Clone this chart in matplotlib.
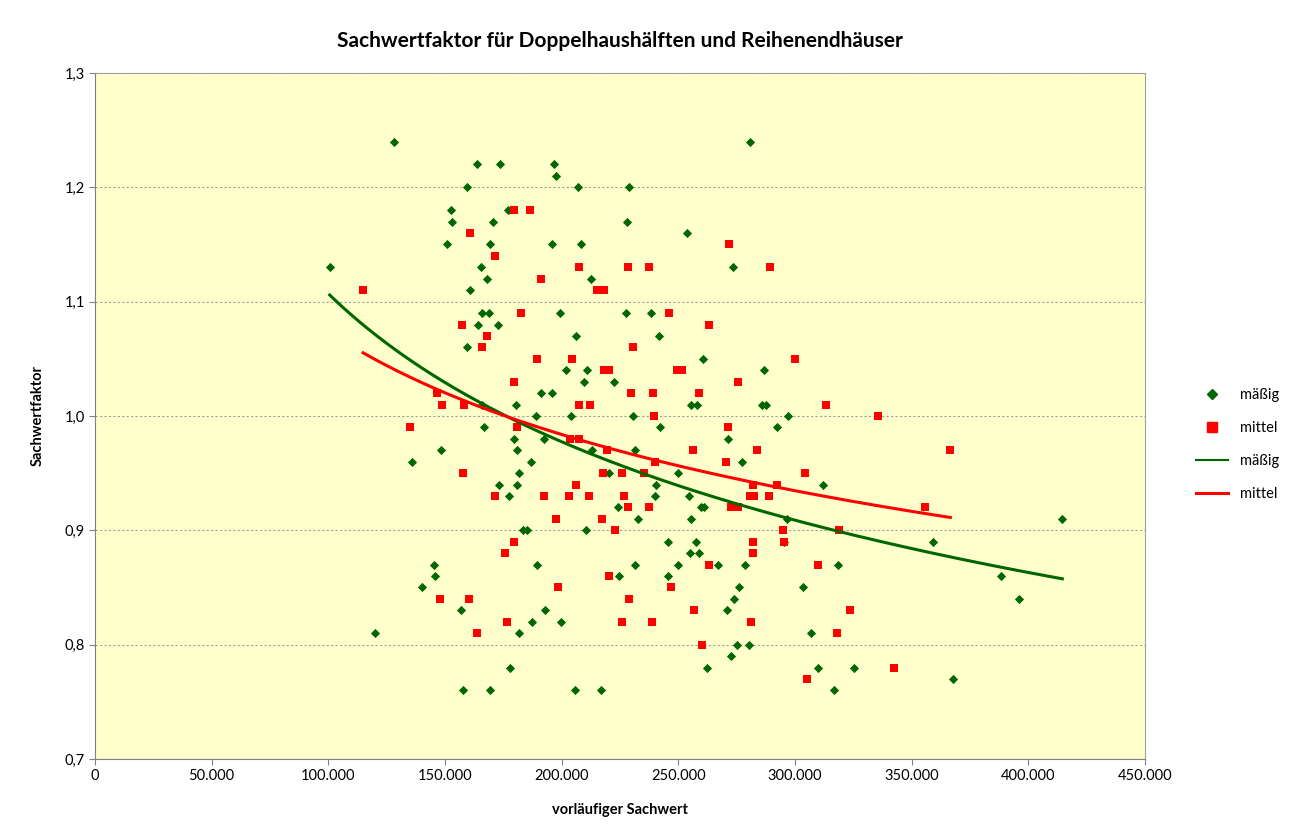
import matplotlib
matplotlib.use("Agg")
import matplotlib.pyplot as plt
from matplotlib.lines import Line2D
from matplotlib.ticker import FuncFormatter, MultipleLocator
import numpy as np

plt.rcParams['font.family'] = ['Lato', 'DejaVu Sans']

# mäßig (grüne Rauten): vorläufiger Sachwert in Tsd. EUR, Sachwertfaktor
maessig_x = [100.6, 128, 120, 135.7, 140.3, 145.3, 145.6, 148.3, 150.9, 152.6,
             153, 157, 157.6, 159.6, 159.6, 160.6, 163.7, 165.3, 164.3, 165.7,
             169, 165.7, 166.7, 168, 169.3, 169.4, 170.7, 172.9, 173.3, 173.7,
             177, 177.6, 177.9, 179.4, 180.4, 180.9, 180.9, 181.9, 181.9, 183.3,
             185, 186.7, 187.4, 188.9, 189.4, 191.1, 192.4, 193, 196, 196,
             196.7, 197.4, 199.3, 199.7, 201.7, 204, 205.7, 206.1, 206.9, 208.4,
             209.7, 210.4, 210.9, 212.7, 213, 216.7, 220.3, 222.4, 224.1, 224.7,
             227.6, 228, 229, 230.7, 231.3, 231.6, 232.7, 238.3, 240, 240.3,
             241.7, 242.1, 245.4, 245.7, 249.7, 250, 253.7, 254.8, 255.4, 255.4,
             255, 257.4, 258, 259, 259.7, 261, 260.6, 262.3, 267, 271,
             271.3, 272.6, 273.3, 274, 275, 275.9, 277.1, 278.6, 280.1, 280.8,
             285.7, 286.8, 287.4, 292.3, 295.3, 296.4, 296.9, 303.6, 306.9, 309.9,
             312, 316.7, 318.6, 325.4, 359, 367.9, 388.4, 395.9, 414.6]
maessig_y = [1.13, 1.24, 0.81, 0.96, 0.85, 0.87, 0.86, 0.97, 1.15, 1.18,
             1.17, 0.83, 0.76, 1.20, 1.06, 1.11, 1.22, 1.13, 1.08, 1.09,
             1.09, 1.01, 0.99, 1.12, 1.15, 0.76, 1.17, 1.08, 0.94, 1.22,
             1.18, 0.93, 0.78, 0.98, 1.01, 0.97, 0.94, 0.95, 0.81, 0.90,
             0.90, 0.96, 0.82, 1.00, 0.87, 1.02, 0.98, 0.83, 1.02, 1.15,
             1.22, 1.21, 1.09, 0.82, 1.04, 1.00, 0.76, 1.07, 1.20, 1.15,
             1.03, 0.90, 1.04, 1.12, 0.97, 0.76, 0.95, 1.03, 0.92, 0.86,
             1.09, 1.17, 1.20, 1.00, 0.87, 0.97, 0.91, 1.09, 0.93, 0.94,
             1.07, 0.99, 0.86, 0.89, 0.87, 0.95, 1.16, 0.93, 1.01, 0.91,
             0.88, 0.89, 1.01, 0.88, 0.92, 0.92, 1.05, 0.78, 0.87, 0.83,
             0.98, 0.79, 1.13, 0.84, 0.80, 0.85, 0.96, 0.87, 0.80, 1.24,
             1.01, 1.04, 1.01, 0.99, 0.89, 0.91, 1.00, 0.85, 0.81, 0.78,
             0.94, 0.76, 0.87, 0.78, 0.89, 0.77, 0.86, 0.84, 0.91]

# mittel (rote Quadrate)
mittel_x = [114.9, 135.1, 146.4, 148.9, 147.9, 157.3, 157.6, 158, 160.4, 160.6,
            163.7, 165.9, 167.9, 171.4, 171.4, 175.7, 176.4, 179.6, 179.7, 179.7,
            180.9, 182.6, 186.6, 189.4, 191, 192.4, 197.4, 198.5, 203.3, 203.6,
            204.3, 206, 207.3, 207.4, 207.6, 211.7, 212, 215, 218, 217.3,
            217.7, 218, 220.5, 219.5, 220.5, 222.7, 225.7, 226, 226.7, 228.3,
            228.3, 228.7, 229.7, 230.4, 235.4, 237.6, 237.6, 238.7, 239, 239.7,
            239.9, 246, 246.7, 249.5, 251.5, 256.5, 256.9, 259, 260.1, 263,
            263, 270.3, 271.3, 271.7, 272.8, 275.7, 275.7, 280.7, 281.1, 281.9,
            281.9, 282.1, 282.4, 283.7, 288.9, 289.4, 292.3, 295, 295.3, 300,
            304.3, 305.1, 310, 313.4, 318.1, 318.9, 323.4, 335.4, 342.4, 355.7,
            366.6]
mittel_y = [1.11, 0.99, 1.02, 1.01, 0.84, 1.08, 0.95, 1.01, 0.84, 1.16,
            0.81, 1.06, 1.07, 1.14, 0.93, 0.88, 0.82, 1.03, 1.18, 0.89,
            0.99, 1.09, 1.18, 1.05, 1.12, 0.93, 0.91, 0.85, 0.93, 0.98,
            1.05, 0.94, 1.01, 0.98, 1.13, 0.93, 1.01, 1.11, 1.11, 0.91,
            0.95, 1.04, 1.04, 0.97, 0.86, 0.90, 0.82, 0.95, 0.93, 1.13,
            0.92, 0.84, 1.02, 1.06, 0.95, 1.13, 0.92, 0.82, 1.02, 1.00,
            0.96, 1.09, 0.85, 1.04, 1.04, 0.97, 0.83, 1.02, 0.80, 1.08,
            0.87, 0.96, 0.99, 1.15, 0.92, 0.92, 1.03, 0.93, 0.82, 0.89,
            0.88, 0.94, 0.93, 0.97, 0.93, 1.13, 0.94, 0.90, 0.89, 1.05,
            0.95, 0.77, 0.87, 1.01, 0.81, 0.90, 0.83, 1.00, 0.78, 0.92,
            0.97]

# Potenz-Trendlinien y = a * (x/100000)^b
fit_maessig = (1.107, -0.1795)
fit_mittel = (1.074, -0.1265)

GREEN = '#006600'
RED = '#ff0000'


def trend(xs, fit):
    xx = np.linspace(min(xs), max(xs), 200) * 1000
    return xx, fit[0] * (xx / 100000.0) ** fit[1]


fig = plt.figure(figsize=(13.03, 8.36), dpi=100)
ax = fig.add_axes([0.0729, 0.0921, 0.8058, 0.8206])
ax.set_facecolor('#ffffcc')

mx = np.array(maessig_x) * 1000
rx = np.array(mittel_x) * 1000
ax.scatter(mx, maessig_y, marker='D', s=22, c=GREEN, linewidths=0, zorder=3)
ax.scatter(rx, mittel_y, marker='s', s=40, c=RED, linewidths=0, zorder=3)

gx, gy = trend(maessig_x, fit_maessig)
ax.plot(gx, gy, color=GREEN, lw=2.2, zorder=4)
rxx, ryy = trend(mittel_x, fit_mittel)
ax.plot(rxx, ryy, color=RED, lw=2.2, zorder=4)

ax.set_xlim(0, 450000)
ax.set_ylim(0.7, 1.3)
ax.xaxis.set_major_locator(MultipleLocator(50000))
ax.yaxis.set_major_locator(MultipleLocator(0.1))
ax.xaxis.set_major_formatter(FuncFormatter(lambda v, p: f"{int(round(v)):,}".replace(',', '.')))
ax.yaxis.set_major_formatter(FuncFormatter(lambda v, p: f"{v:.1f}".replace('.', ',')))
ax.grid(axis='y', color='#a0a0a0', linestyle=(0, (2, 2)), linewidth=0.8)
ax.set_axisbelow(True)
for s in ax.spines.values():
    s.set_color('#a0a0a0')
ax.spines['left'].set_color('#808080')
ax.spines['bottom'].set_color('#808080')
ax.tick_params(axis='both', direction='out', length=4, color='#808080', labelsize=10.5)

ax.set_title('Sachwertfaktor für Doppelhaushälften und Reihenendhäuser',
             fontsize=15, fontweight='bold', pad=19)
ax.set_xlabel('vorläufiger Sachwert', fontsize=10.5, fontweight='bold', labelpad=14)
ax.set_ylabel('Sachwertfaktor', fontsize=10.5, fontweight='bold', labelpad=14)

handles = [
    Line2D([], [], marker='D', color=GREEN, linestyle='none', markersize=5),
    Line2D([], [], marker='s', color=RED, linestyle='none', markersize=6.5),
    Line2D([], [], color=GREEN, lw=1.5),
    Line2D([], [], color=RED, lw=2.2),
]
fig.legend(handles, ['mäßig', 'mittel', 'mäßig', 'mittel'],
           loc='center left', bbox_to_anchor=(0.908, 0.468), frameon=False,
           fontsize=10.5, handlelength=2.2, labelspacing=1.3)

fig.savefig('out.png', dpi=100)
